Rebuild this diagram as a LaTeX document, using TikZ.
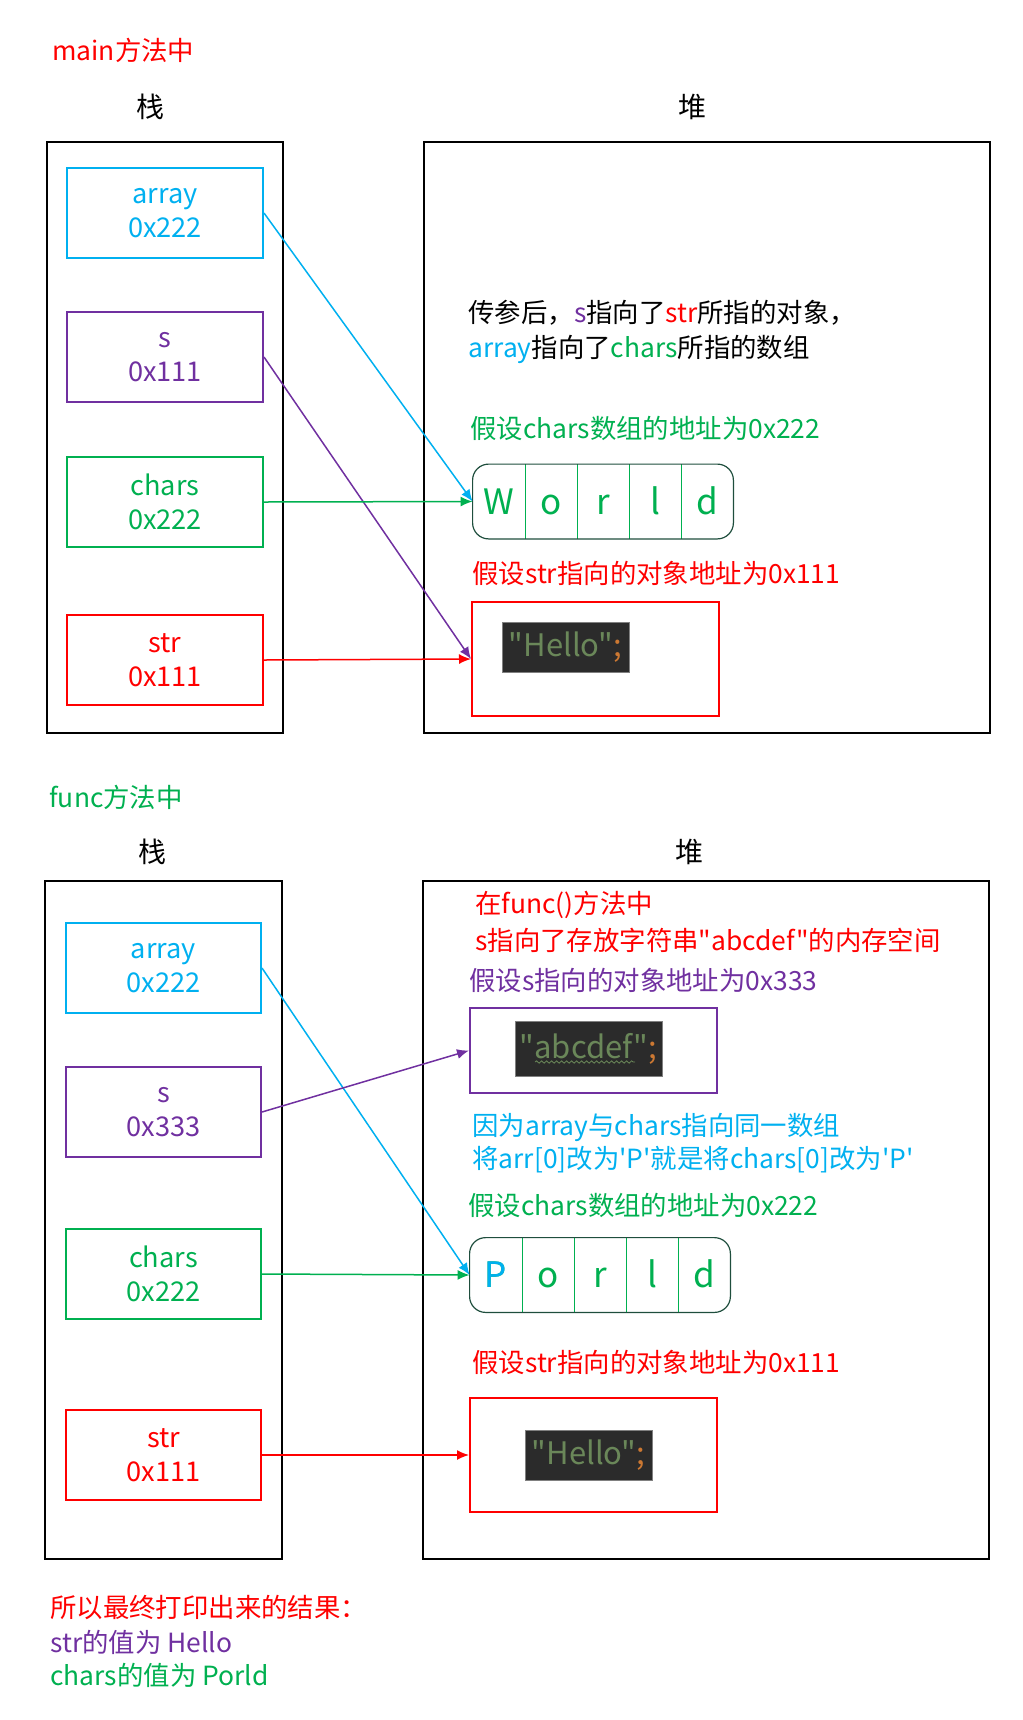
\documentclass[tikz,border=0pt]{standalone}
\usepackage{fontspec}
\setmainfont{Noto Sans CJK SC}[Ligatures=TeXOff]
\usepackage{tikz}
\usetikzlibrary{arrows.meta,positioning,decorations.pathmorphing}

\definecolor{cyanc}{HTML}{00B0F0}
\definecolor{purplec}{HTML}{7030A0}
\definecolor{greenc}{HTML}{00B050}
\definecolor{redc}{HTML}{FF0000}
\definecolor{codebg}{HTML}{2B2B2B}
\definecolor{codestr}{HTML}{6A8759}
\definecolor{codesemi}{HTML}{CC7832}
\definecolor{arrline}{HTML}{1F4E3D}

\begin{document}
\begin{tikzpicture}[x=0.5pt,y=-0.5pt,
	txt/.style={font=\fontsize{13.2}{16.5}\selectfont, inner sep=0pt, anchor=west},
	head/.style={font=\fontsize{14}{16}\selectfont, inner sep=0pt},
	frame/.style={draw=black, line width=1pt},
	var/.style={draw, line width=1pt, minimum width=98pt, minimum height=45pt, align=center, font=\fontsize{13.6}{17}\selectfont, inner sep=0pt},
	obj/.style={draw, line width=1pt, minimum width=123.5pt, inner sep=0pt},
	code/.style={fill=codebg, draw=gray, line width=0.3pt, font=\fontsize{15.5}{18}\selectfont, text=codestr, inner sep=0pt},
	cell/.style={minimum width=26pt, minimum height=37pt, inner sep=0pt, text height=12.5pt, text depth=0pt, font=\fontsize{17.5}{20}\selectfont, text=greenc},
	ptr/.style={-{Latex[length=6pt,width=5pt]}, line width=0.75pt}]
	\useasboundingbox (0,0) rectangle (1023,1720);

	% main
	\node[txt, redc] (main) at (52,50) {main方法中};
	\node[head] (zhan1) at (150,107) {栈};
	\node[head] (dui1) at (692,107) {堆};
	\draw[frame] (47,142) rectangle (283,733);
	\draw[frame] (424,142) rectangle (990,733);

	\node[var, cyanc] (arr1) at (165,213) {array\\0x222};
	\node[var, purplec] (s1) at (165,357) {s\\0x111};
	\node[var, greenc] (ch1) at (165,502) {chars\\0x222};
	\node[var, redc] (str1) at (165,660) {str\\0x111};

	\node[txt] (note1) at (468,313) {传参后，\textcolor{purplec}{s}指向了\textcolor{redc}{str}所指的对象，};
	\node[txt] (note2) at (468,349) {\textcolor{cyanc}{array}指向了\textcolor{greenc}{chars}所指的数组};
	\node[txt, greenc] (addr1) at (470,428) {假设chars数组的地址为0x222};

	\foreach \ch [count=\i] in {W,o,r,l,d}
		\node[cell] (w\i) at ({473+52*\i-26},501.5) {\ch};
	\foreach \i in {1,...,4}
		\draw[greenc, line width=0.8pt] (w\i.north east) -- (w\i.south east);
	\draw[arrline, line width=0.6pt, rounded corners=8pt] (w1.north west) rectangle (w5.south east);

	\node[txt, redc] (addr2) at (472,573) {假设str指向的对象地址为0x111};
	\node[obj, draw=redc, minimum height=57pt] (hello1) at (595.5,659) {};
	\node[code, minimum width=63.5pt, minimum height=25pt] (code1) at (565.5,647) {"Hello"\textcolor{codesemi}{;}};

	\draw[ptr, cyanc] (arr1.east) -- (w1.west);
	\draw[ptr, purplec] (s1.east) -- (hello1.west);
	\draw[ptr, greenc] (ch1.east) -- (w1.west);
	\draw[ptr, redc] (str1.east) -- (hello1.west);

	% func
	\node[txt, greenc] (func) at (49,797) {func方法中};
	\node[head] (zhan2) at (152,852) {栈};
	\node[head] (dui2) at (689,852) {堆};
	\draw[frame] (45,881) rectangle (282,1559);
	\draw[frame] (423,881) rectangle (989,1559);

	\node[var, cyanc, minimum width=97.5pt] (arr2) at (163.5,968) {array\\0x222};
	\node[var, purplec, minimum width=97.5pt] (s2) at (163.5,1112) {s\\0x333};
	\node[var, greenc, minimum width=97.5pt] (ch2) at (163.5,1274) {chars\\0x222};
	\node[var, redc, minimum width=97.5pt] (str2) at (163.5,1455) {str\\0x111};

	\node[txt, redc] (note3) at (475,905) {在func()方法中};
	\node[txt, redc] (note4) at (475,940) {s指向了存放字符串"abcdef"的内存空间};
	\node[txt, purplec] (addr3) at (469,980) {假设s指向的对象地址为0x333};
	\node[obj, draw=purplec, minimum height=42.5pt] (abc) at (593.5,1050.5) {};
	\node[code, minimum width=73.5pt, minimum height=27.5pt] (code3) at (588.5,1048.5) {"abcdef"\textcolor{codesemi}{;}};
	\draw[codestr, line width=0.4pt, decorate, decoration={snake, amplitude=0.6pt, segment length=2.5pt}] (535,1062) -- (635,1062);

	\node[txt, cyanc] (note5) at (472,1127) {因为array与chars指向同一数组};
	\node[txt, cyanc] (note6) at (472,1160) {将arr[0]改为'P'就是将chars[0]改为'P'};
	\node[txt, greenc] (addr4) at (468,1205) {假设chars数组的地址为0x222};

	\foreach \ch [count=\i] in {P,o,r,l,d}
		\node[cell] (p\i) at ({470+52*\i-26},1275) {\ch};
	\node[cell, text=cyanc] at (p1) {P};
	\foreach \i in {1,...,4}
		\draw[greenc, line width=0.8pt] (p\i.north east) -- (p\i.south east);
	\draw[arrline, line width=0.6pt, rounded corners=8pt] (p1.north west) rectangle (p5.south east);

	\node[txt, redc] (addr5) at (472,1362) {假设str指向的对象地址为0x111};
	\node[obj, draw=redc, minimum height=57pt] (hello2) at (593.5,1455) {};
	\node[code, minimum width=63.5pt, minimum height=25pt] (code2) at (588.5,1455) {"Hello"\textcolor{codesemi}{;}};

	\draw[ptr, cyanc] (arr2.east) -- (p1.west);
	\draw[ptr, purplec] (s2.east) -- (abc.west);
	\draw[ptr, greenc] (ch2.east) -- (p1.west);
	\draw[ptr, redc] (str2.east) -- (hello2.west);

	\node[txt, redc] (res1) at (50,1607) {所以最终打印出来的结果：};
	\node[txt, purplec] (res2) at (50,1642) {str的值为 Hello};
	\node[txt, greenc] (res3) at (50,1675) {chars的值为 Porld};
\end{tikzpicture}
\end{document}
